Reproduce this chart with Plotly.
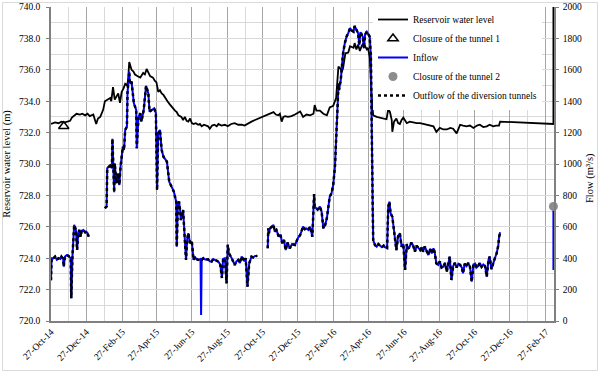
import plotly.graph_objects as go

# ---------------- data ----------------
level_points = [
    ("2014-10-27", 732.55), ("2014-11-03", 732.65), ("2014-11-09", 732.6), ("2014-11-14", 732.7),
    ("2014-11-20", 732.65), ("2014-11-25", 732.7), ("2014-11-29", 732.75), ("2014-12-02", 732.95),
    ("2014-12-06", 733.1), ("2014-12-10", 733.2), ("2014-12-16", 733.15), ("2014-12-20", 733.2),
    ("2014-12-25", 733.1), ("2014-12-29", 733.2), ("2015-01-02", 733.05), ("2015-01-08", 733.15),
    ("2015-01-13", 732.55), ("2015-01-16", 732.9), ("2015-01-20", 733.0), ("2015-01-25", 733.45),
    ("2015-01-28", 734.0), ("2015-02-02", 734.1), ("2015-02-06", 734.2), ("2015-02-08", 734.0),
    ("2015-02-11", 734.9), ("2015-02-14", 734.1), ("2015-02-17", 734.3), ("2015-02-20", 734.5),
    ("2015-02-23", 733.9), ("2015-02-26", 734.6), ("2015-03-01", 734.8), ("2015-03-04", 735.1),
    ("2015-03-07", 735.0), ("2015-03-09", 735.3), ("2015-03-11", 736.5), ("2015-03-13", 736.3),
    ("2015-03-15", 736.0), ("2015-03-18", 735.9), ("2015-03-21", 735.7), ("2015-03-25", 735.6),
    ("2015-03-30", 735.5), ("2015-04-04", 735.8), ("2015-04-07", 735.7), ("2015-04-10", 736.05),
    ("2015-04-13", 735.8), ("2015-04-16", 735.6), ("2015-04-21", 735.5), ("2015-04-24", 735.3),
    ("2015-04-27", 735.2), ("2015-04-30", 734.6), ("2015-05-03", 734.7), ("2015-05-06", 734.5),
    ("2015-05-09", 734.4), ("2015-05-12", 734.2), ("2015-05-16", 734.0), ("2015-05-20", 733.8),
    ("2015-05-24", 733.6), ("2015-05-29", 733.4), ("2015-06-01", 733.3), ("2015-06-04", 733.1),
    ("2015-06-09", 733.0), ("2015-06-12", 732.8), ("2015-06-15", 733.0), ("2015-06-18", 732.75),
    ("2015-06-21", 732.7), ("2015-06-24", 732.9), ("2015-06-27", 732.6), ("2015-06-30", 732.55),
    ("2015-07-04", 732.6), ("2015-07-08", 732.5), ("2015-07-11", 732.55), ("2015-07-14", 732.4),
    ("2015-07-18", 732.5), ("2015-07-22", 732.45), ("2015-07-25", 732.4), ("2015-07-28", 732.25),
    ("2015-08-01", 732.45), ("2015-08-05", 732.5), ("2015-08-09", 732.4), ("2015-08-12", 732.55),
    ("2015-08-17", 732.45), ("2015-08-23", 732.5), ("2015-08-28", 732.4), ("2015-09-03", 732.55),
    ("2015-09-09", 732.6), ("2015-09-15", 732.5), ("2015-09-21", 732.5), ("2015-09-26", 732.45),
    ("2015-10-02", 732.6), ("2015-10-08", 732.7), ("2015-10-14", 732.8), ("2015-10-20", 732.9),
    ("2015-10-26", 733.0), ("2015-11-01", 733.1), ("2015-11-06", 733.2), ("2015-11-10", 733.25),
    ("2015-11-15", 733.3), ("2015-11-19", 733.15), ("2015-11-23", 733.1), ("2015-11-26", 733.2),
    ("2015-11-29", 732.7), ("2015-12-02", 733.0), ("2015-12-05", 733.05), ("2015-12-10", 733.0),
    ("2015-12-16", 733.05), ("2015-12-22", 733.15), ("2015-12-28", 733.3), ("2015-12-31", 733.35),
    ("2016-01-05", 733.0), ("2016-01-11", 733.15), ("2016-01-17", 733.1), ("2016-01-23", 733.2),
    ("2016-01-25", 733.75), ("2016-01-28", 733.4), ("2016-02-03", 733.4), ("2016-02-09", 733.2),
    ("2016-02-15", 733.1), ("2016-02-20", 733.6), ("2016-02-26", 733.7), ("2016-03-02", 734.2),
    ("2016-03-06", 736.2), ("2016-03-09", 736.1), ("2016-03-12", 735.9), ("2016-03-14", 736.1),
    ("2016-03-18", 737.05), ("2016-03-23", 737.1), ("2016-03-26", 737.5), ("2016-04-01", 737.4),
    ("2016-04-03", 737.7), ("2016-04-06", 737.3), ("2016-04-09", 737.6), ("2016-04-12", 737.2),
    ("2016-04-15", 737.5), ("2016-04-18", 737.7), ("2016-04-21", 737.5), ("2016-04-24", 737.3),
    ("2016-04-26", 737.4), ("2016-04-29", 736.8), ("2016-05-02", 734.5), ("2016-05-05", 733.1),
    ("2016-05-11", 733.0), ("2016-05-16", 732.95), ("2016-05-20", 732.95), ("2016-05-24", 732.9),
    ("2016-05-28", 732.85), ("2016-05-31", 733.5), ("2016-06-03", 733.3), ("2016-06-06", 732.8),
    ("2016-06-07", 732.05), ("2016-06-10", 732.7), ("2016-06-14", 732.9), ("2016-06-17", 732.6),
    ("2016-06-20", 732.55), ("2016-06-23", 732.8), ("2016-06-26", 732.95), ("2016-07-02", 732.6),
    ("2016-07-07", 732.7), ("2016-07-13", 732.65), ("2016-07-19", 732.6), ("2016-07-25", 732.6),
    ("2016-07-30", 732.55), ("2016-08-05", 732.5), ("2016-08-11", 732.45), ("2016-08-17", 732.4),
    ("2016-08-22", 732.05), ("2016-08-28", 732.3), ("2016-09-03", 732.2), ("2016-09-09", 732.2),
    ("2016-09-15", 732.3), ("2016-09-20", 732.25), ("2016-09-26", 731.95), ("2016-10-02", 732.5),
    ("2016-10-07", 732.45), ("2016-10-13", 732.4), ("2016-10-19", 732.45), ("2016-10-25", 732.3),
    ("2016-10-31", 732.45), ("2016-11-05", 732.5), ("2016-11-11", 732.35), ("2016-11-17", 732.4),
    ("2016-11-22", 732.5), ("2016-11-28", 732.4), ("2016-12-03", 732.45), ("2016-12-08", 732.45),
    ("2016-12-10", 732.7), ("2017-03-12", 732.55), ("2017-03-12", 745.0),
]

# flow: inflow and outflow of the diversion tunnels coincide
flow_points = [
    ("2014-10-27", 260), ("2014-10-28", 400), ("2014-10-31", 399), ("2014-11-03", 410),
    ("2014-11-06", 390), ("2014-11-09", 400), ("2014-11-12", 395), ("2014-11-14", 410),
    ("2014-11-17", 395), ("2014-11-18", 346), ("2014-11-20", 410), ("2014-11-23", 420),
    ("2014-11-26", 415), ("2014-11-30", 399), ("2014-12-01", 145), ("2014-12-03", 410),
    ("2014-12-06", 612), ("2014-12-07", 600), ("2014-12-09", 580), ("2014-12-11", 452),
    ("2014-12-13", 560), ("2014-12-15", 580), ("2014-12-17", 537), ("2014-12-19", 575),
    ("2014-12-22", 580), ("2014-12-25", 565), ("2014-12-27", 569), ("2014-12-29", 560),
    ("2014-12-31", 537), ("2015-01-15", None),
    ("2015-01-28", 718), ("2015-01-31", 730), ("2015-02-01", 973), ("2015-02-03", 983),
    ("2015-02-06", 990), ("2015-02-09", 973), ("2015-02-10", 1160), ("2015-02-11", 1050),
    ("2015-02-13", 820), ("2015-02-14", 1004), ("2015-02-17", 877), ("2015-02-20", 941),
    ("2015-02-22", 866), ("2015-02-24", 983), ("2015-02-28", 1110), ("2015-03-02", 1089),
    ("2015-03-04", 1217), ("2015-03-07", 1238), ("2015-03-08", 1450), ("2015-03-11", 1588),
    ("2015-03-12", 1514), ("2015-03-15", 1524), ("2015-03-19", 1387), ("2015-03-23", 1344),
    ("2015-03-24", 1100), ("2015-03-27", 1301), ("2015-03-30", 1323), ("2015-04-01", 1270),
    ("2015-04-05", 1344), ("2015-04-09", 1498), ("2015-04-13", 1450), ("2015-04-15", 1333),
    ("2015-04-19", 1344), ("2015-04-23", 1355), ("2015-04-26", 1323), ("2015-04-28", 834),
    ("2015-04-30", 1196), ("2015-05-03", 1217), ("2015-05-06", 1089), ("2015-05-09", 1047),
    ("2015-05-15", 1015), ("2015-05-19", 887), ("2015-05-23", 856), ("2015-05-27", 824),
    ("2015-05-31", 760), ("2015-06-01", 473), ("2015-06-03", 750), ("2015-06-05", 760),
    ("2015-06-07", 700), ("2015-06-08", 643), ("2015-06-12", 707), ("2015-06-15", 537),
    ("2015-06-17", 389), ("2015-06-19", 520), ("2015-06-21", 559), ("2015-06-24", 495),
    ("2015-06-27", 505), ("2015-06-30", 389), ("2015-07-02", 410), ("2015-07-05", 395),
    ("2015-07-08", 389), ("2015-07-12", 395), ("2015-07-14", 389), ("2015-07-17", 400),
    ("2015-07-20", 392), ("2015-07-25", 393), ("2015-07-28", 380), ("2015-07-31", 378),
    ("2015-08-03", 395), ("2015-08-06", 389), ("2015-08-09", 385), ("2015-08-12", 378),
    ("2015-08-15", 360), ("2015-08-18", 274), ("2015-08-20", 395), ("2015-08-23", 400),
    ("2015-08-26", 240), ("2015-08-28", 486), ("2015-08-30", 431), ("2015-09-04", 399),
    ("2015-09-09", 357), ("2015-09-12", 380), ("2015-09-15", 389), ("2015-09-18", 370),
    ("2015-09-21", 410), ("2015-09-26", 380), ("2015-09-28", 400), ("2015-10-01", 218),
    ("2015-10-04", 367), ("2015-10-08", 410), ("2015-10-11", 405), ("2015-10-14", 414),
    ("2015-10-18", 414), ("2015-10-25", None),
    ("2015-11-05", 463), ("2015-11-06", 590), ("2015-11-07", 559), ("2015-11-09", 590),
    ("2015-11-12", 600), ("2015-11-15", 612), ("2015-11-17", 569), ("2015-11-20", 580),
    ("2015-11-24", 537), ("2015-11-27", 550), ("2015-11-30", 495), ("2015-12-03", 516),
    ("2015-12-06", 452), ("2015-12-09", 500), ("2015-12-13", 463), ("2015-12-17", 490),
    ("2015-12-22", 484), ("2015-12-27", 527), ("2015-12-31", 548), ("2016-01-03", 590),
    ("2016-01-05", 601), ("2016-01-08", 585), ("2016-01-11", 590), ("2016-01-14", 580),
    ("2016-01-17", 601), ("2016-01-21", 537), ("2016-01-24", 808), ("2016-01-25", 728),
    ("2016-01-30", 710), ("2016-02-03", 728), ("2016-02-06", 696), ("2016-02-09", 590),
    ("2016-02-12", 610), ("2016-02-15", 654), ("2016-02-17", 700), ("2016-02-20", 792),
    ("2016-02-23", 813), ("2016-02-26", 866), ("2016-02-29", 983), ("2016-03-03", 1196),
    ("2016-03-05", 1408), ("2016-03-06", 1514), ("2016-03-07", 1471), ("2016-03-10", 1535),
    ("2016-03-12", 1620), ("2016-03-14", 1705), ("2016-03-17", 1769), ("2016-03-20", 1811),
    ("2016-03-23", 1833), ("2016-03-26", 1865), ("2016-03-29", 1850), ("2016-04-01", 1843),
    ("2016-04-03", 1879), ("2016-04-06", 1850), ("2016-04-09", 1833), ("2016-04-11", 1758),
    ("2016-04-13", 1840), ("2016-04-17", 1811), ("2016-04-19", 1737), ("2016-04-21", 1825),
    ("2016-04-24", 1843), ("2016-04-26", 1830), ("2016-04-29", 1811), ("2016-05-01", 1684),
    ("2016-05-02", 1196), ("2016-05-04", 771), ("2016-05-05", 516), ("2016-05-08", 484),
    ("2016-05-11", 473), ("2016-05-14", 490), ("2016-05-17", 480), ("2016-05-20", 470),
    ("2016-05-23", 480), ("2016-05-25", 470), ("2016-05-29", 465), ("2016-05-31", 728),
    ("2016-06-02", 760), ("2016-06-04", 686), ("2016-06-07", 664), ("2016-06-08", 632),
    ("2016-06-11", 548), ("2016-06-14", 452), ("2016-06-17", 540), ("2016-06-20", 559),
    ("2016-06-23", 473), ("2016-06-26", 490), ("2016-06-29", 325), ("2016-07-02", 490),
    ("2016-07-04", 460), ("2016-07-07", 473), ("2016-07-10", 500), ("2016-07-13", 480),
    ("2016-07-16", 441), ("2016-07-19", 480), ("2016-07-22", 465), ("2016-07-25", 452),
    ("2016-07-28", 470), ("2016-07-30", 441), ("2016-08-02", 475), ("2016-08-05", 452),
    ("2016-08-08", 420), ("2016-08-11", 460), ("2016-08-14", 430), ("2016-08-17", 463),
    ("2016-08-19", 440), ("2016-08-22", 367), ("2016-08-25", 357), ("2016-08-28", 380),
    ("2016-08-31", 340), ("2016-09-03", 346), ("2016-09-06", 370), ("2016-09-09", 314),
    ("2016-09-12", 380), ("2016-09-14", 410), ("2016-09-17", 261), ("2016-09-20", 350),
    ("2016-09-23", 370), ("2016-09-26", 340), ("2016-09-29", 365), ("2016-10-02", 357),
    ("2016-10-05", 340), ("2016-10-07", 304), ("2016-10-10", 365), ("2016-10-13", 350),
    ("2016-10-16", 370), ("2016-10-19", 345), ("2016-10-22", 250), ("2016-10-25", 360),
    ("2016-10-28", 365), ("2016-10-30", 340), ("2016-11-02", 350), ("2016-11-05", 370),
    ("2016-11-08", 345), ("2016-11-11", 360), ("2016-11-14", 350), ("2016-11-17", 282),
    ("2016-11-20", 390), ("2016-11-22", 410), ("2016-11-25", 330), ("2016-11-28", 370),
    ("2016-12-01", 400), ("2016-12-04", 431), ("2016-12-07", 484), ("2016-12-08", 530),
    ("2016-12-10", 565),
]

# inflow-only features (not followed by the outflow)
inflow_spike_points = [("2015-07-13", 38)]
inflow_edge_points = [("2017-01-15", None), ("2017-03-12", 325), ("2017-03-12", 730)]

tunnel1_dates = ["2014-11-18"]
tunnel1_levels = [732.4]
tunnel2_dates = ["2017-03-12"]
tunnel2_flows = [730]

x_tick_dates = [
    "2014-10-27", "2014-12-27", "2015-02-27", "2015-04-27", "2015-06-27",
    "2015-08-27", "2015-10-27", "2015-12-27", "2016-02-27", "2016-04-27",
    "2016-06-27", "2016-08-27", "2016-10-27", "2016-12-27", "2017-02-27",
]
x_tick_labels = [
    "27-Oct-14", "27-Dec-14", "27-Feb-15", "27-Apr-15", "27-Jun-15",
    "27-Aug-15", "27-Oct-15", "27-Dec-15", "27-Feb-16", "27-Apr-16",
    "27-Jun-16", "27-Aug-16", "27-Oct-16", "27-Dec-16", "27-Feb-17",
]
x_minor_dates = [
    "2014-11-27", "2015-01-27", "2015-03-27", "2015-05-27", "2015-07-27",
    "2015-09-27", "2015-11-27", "2016-01-27", "2016-03-27", "2016-05-27",
    "2016-07-27", "2016-09-27", "2016-11-27", "2017-01-27",
]

x_range = ["2014-10-27", "2017-03-13"]
level_range = [720, 740]
flow_range = [0, 2000]

series_names = [
    "Reservoir water level",
    "Closure of the tunnel 1",
    "Inflow",
    "Closure of the tunnel 2",
    "Outflow of the diversion tunnels",
]

# ---------------- build series ----------------
level_dates = [d for d, _ in level_points]
level_values = [v for _, v in level_points]

outflow_dates = [d for d, _ in flow_points]
outflow_values = [v for _, v in flow_points]

inflow_sorted = sorted(flow_points + inflow_spike_points, key=lambda p: p[0])
inflow_all = inflow_sorted + inflow_edge_points
inflow_dates = [d for d, _ in inflow_all]
inflow_values = [v for _, v in inflow_all]

SERIF = "Liberation Serif"

fig = go.Figure()

fig.add_trace(go.Scatter(
    x=level_dates, y=level_values, mode="lines", name=series_names[0],
    line=dict(color="black", width=1.8), yaxis="y", legendrank=1,
))
fig.add_trace(go.Scatter(
    x=tunnel1_dates, y=tunnel1_levels, mode="markers", name=series_names[1],
    marker=dict(symbol="triangle-up-open", size=9, color="black", line=dict(width=1.5, color="black")),
    yaxis="y", legendrank=2, cliponaxis=False,
))
fig.add_trace(go.Scatter(
    x=inflow_dates, y=inflow_values, mode="lines", name=series_names[2],
    line=dict(color="#0000ff", width=2), yaxis="y2", legendrank=3,
))
fig.add_trace(go.Scatter(
    x=tunnel2_dates, y=tunnel2_flows, mode="markers", name=series_names[3],
    marker=dict(symbol="circle", size=9, color="#8c8c8c"),
    yaxis="y2", legendrank=4, cliponaxis=False,
))
fig.add_trace(go.Scatter(
    x=outflow_dates, y=outflow_values, mode="lines", name=series_names[4],
    line=dict(color="black", width=2.5, dash="dot"), yaxis="y2", legendrank=5,
))

# plot area: x 51..554, y 7..321 (pixels)
L, R, T, B = 51, 554, 7, 321
W, H = 601, 374

fig.update_layout(
    width=W, height=H,
    margin=dict(l=L, r=W - R, t=T, b=H - B, autoexpand=False),
    paper_bgcolor="white", plot_bgcolor="white",
    font=dict(family=SERIF, size=10, color="black"),
    showlegend=True,
    legend=dict(
        x=(373 - L) / (R - L), y=(B - 5) / (B - T), xanchor="left", yanchor="top",
        bgcolor="white", borderwidth=0, font=dict(family=SERIF, size=9.5, color="black"),
        tracegroupgap=0,
    ),
    xaxis=dict(
        type="date", range=x_range,
        tickmode="array", tickvals=x_tick_dates, ticktext=x_tick_labels,
        tickangle=-45, tickfont=dict(size=9.5),
        showgrid=True, gridcolor="#a6a6a6", gridwidth=1,
        minor=dict(tickmode="array", tickvals=x_minor_dates, showgrid=True,
                   gridcolor="#d9d9d9", gridwidth=1),
        showline=True, linecolor="#808080", linewidth=1.5,
        ticks="", zeroline=False,
    ),
    yaxis=dict(
        range=level_range, tick0=720, dtick=2, tickformat=".1f", tickfont=dict(size=9.5),
        showgrid=True, gridcolor="#d9d9d9", gridwidth=1,
        minor=dict(dtick=1, showgrid=True, gridcolor="#d9d9d9", gridwidth=1),
        showline=True, linecolor="#808080", linewidth=1.5, zeroline=False,
        ticks="outside", ticklen=3, tickcolor="#808080", ticklabelstandoff=4,
        title=dict(text="Reservoir water level (m)", font=dict(family=SERIF, size=10.5), standoff=6),
    ),
    yaxis2=dict(
        range=flow_range, tick0=0, dtick=200, overlaying="y", side="right",
        tickfont=dict(size=9.5), showgrid=False, zeroline=False,
        showline=True, linecolor="#808080", linewidth=1.5,
        ticks="outside", ticklen=3, tickcolor="#808080", ticklabelstandoff=2,
    ),
    annotations=[dict(
        text="Flow (m³/s)", textangle=-90, showarrow=False,
        xref="paper", yref="paper",
        x=(590 - L) / (R - L), y=(B - 178) / (B - T),
        xanchor="center", yanchor="middle",
        font=dict(family=SERIF, size=10.5, color="black"),
    )],
    shapes=[dict(
        type="rect", xref="paper", yref="paper",
        x0=(2.5 - L) / (R - L), x1=(597.5 - L) / (R - L),
        y0=(B - 370.5) / (B - T), y1=(B - 2.5) / (B - T),
        line=dict(color="#d9d9d9", width=1), fillcolor="rgba(0,0,0,0)", layer="below",
    )],
)

# the page's default 8px body margin would shift the figure; remove it
fig.write_html(
    "out.html",
    config={"displayModeBar": False},
    post_script="document.body.style.margin='0';document.body.style.padding='0';",
)
